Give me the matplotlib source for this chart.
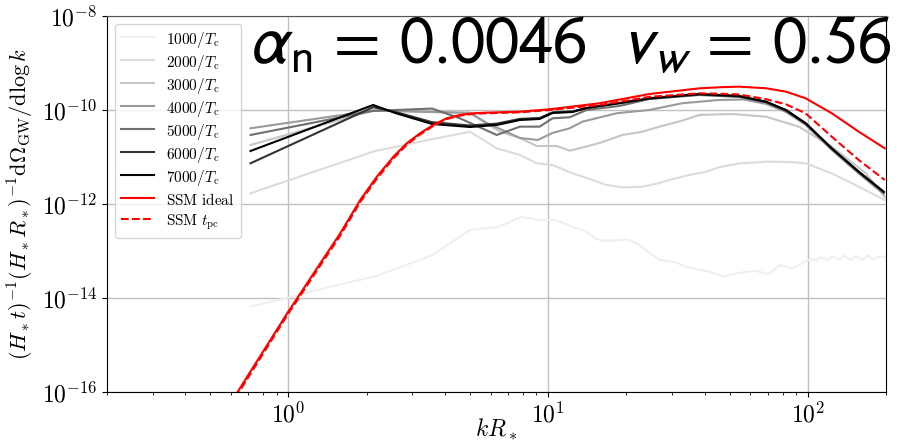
import numpy as np
import matplotlib
matplotlib.use("Agg")
import matplotlib.pyplot as plt
from matplotlib.ticker import FixedLocator, FuncFormatter, LogLocator, NullFormatter, NullLocator

plt.rcParams['mathtext.fontset'] = 'cm'
plt.rcParams['font.family'] = ['DejaVu Serif']

# ---- data (log10 of kR_* and log10 of spectrum) ----
logk_1000 = [-0.146, 0.0, 0.161, 0.333, 0.553, 0.70, 0.807, 0.897, 0.964, 1.028, 1.092, 1.14, 1.188,
             1.22, 1.274, 1.308, 1.348, 1.428, 1.49, 1.54, 1.62, 1.675, 1.73, 1.795, 1.85, 1.89, 1.94,
             1.987, 2.01, 2.03, 2.05, 2.075, 2.095, 2.12, 2.14, 2.165, 2.185, 2.21, 2.23, 2.255, 2.275, 2.3]
logw_1000 = [-14.18, -13.99, -13.76, -13.54, -13.09, -12.55, -12.49, -12.27, -12.34, -12.34, -12.48, -12.57, -12.75,
             -12.78, -12.77, -12.76, -12.86, -13.19, -13.24, -13.35, -13.44, -13.54, -13.47, -13.42, -13.49, -13.30, -13.37,
             -13.23, -13.17, -13.20, -13.13, -13.19, -13.11, -13.19, -13.10, -13.19, -13.10, -13.19, -13.10, -13.18, -13.11, -13.13]

logk_2000 = [-0.146, 0.334, 0.411, 0.507, 0.699, 0.802, 0.891, 0.956, 1.017, 1.094, 1.171, 1.225, 1.286, 1.363,
             1.428, 1.466, 1.543, 1.608, 1.658, 1.735, 1.839, 1.927, 1.992, 2.092, 2.196, 2.296]
logw_2000 = [-11.772, -10.872, -10.787, -10.674, -10.462, -10.815, -10.957, -11.134, -11.170, -11.347, -11.489,
             -11.596, -11.645, -11.632, -11.553, -11.489, -11.383, -11.313, -11.219, -11.138, -11.100, -11.106,
             -11.134, -11.347, -11.632, -11.915]

logk_3000 = [-0.146, 0.326, 0.553, 0.699, 0.814, 0.891, 0.956, 1.033, 1.083, 1.140, 1.198, 1.286, 1.363, 1.428,
             1.516, 1.582, 1.708, 1.839, 1.965, 2.092, 2.223, 2.296]
logw_3000 = [-10.745, -10.011, -10.043, -10.074, -10.462, -10.596, -10.766, -10.766, -10.866, -10.787, -10.702,
             -10.532, -10.462, -10.355, -10.228, -10.106, -10.085, -10.143, -10.355, -10.781, -11.347, -11.851]

logk_4000 = [-0.146, 0.326, 0.553, 0.699, 0.764, 0.891, 0.960, 1.017, 1.083, 1.132, 1.263, 1.390, 1.516, 1.658,
             1.754, 1.839, 1.916, 1.992, 2.092, 2.196, 2.292]
logw_4000 = [-10.389, -10.011, -10.043, -10.057, -10.277, -10.596, -10.638, -10.489, -10.389, -10.249, -10.070,
             -10.0, -9.857, -9.787, -9.777, -9.872, -10.043, -10.319, -10.851, -11.351, -11.787]

logk_5000 = [-0.146, 0.326, 0.553, 0.660, 0.802, 0.891, 0.967, 1.017, 1.083, 1.148, 1.274, 1.390, 1.582, 1.735,
             1.839, 1.916, 1.992, 2.092, 2.196, 2.292]
logw_5000 = [-10.532, -10.02, -9.97, -10.177, -10.532, -10.355, -10.355, -10.177, -10.155, -10.0, -9.915, -9.766,
             -9.681, -9.723, -9.840, -10.021, -10.298, -10.830, -11.330, -11.755]

logk_6000 = [-0.146, 0.326, 0.411, 0.553, 0.699, 0.802, 0.891, 0.967, 1.017, 1.094, 1.148, 1.274, 1.390, 1.582,
             1.735, 1.839, 1.916, 1.992, 2.092, 2.196, 2.292]
logw_6000 = [-11.134, -9.94, -10.04, -10.26, -10.33, -10.29, -10.19, -10.17, -10.05, -10.03, -9.96, -9.86, -9.76,
             -9.67, -9.71, -9.83, -10.01, -10.29, -10.82, -11.32, -11.75]

logk_7000 = [-0.146, 0.326, 0.411, 0.553, 0.699, 0.802, 0.891, 0.967, 1.017, 1.094, 1.148, 1.274, 1.390, 1.582,
             1.735, 1.839, 1.916, 1.992, 2.092, 2.196, 2.292]
logw_7000 = [-10.872, -9.894, -10.064, -10.298, -10.362, -10.319, -10.213, -10.191, -10.064, -10.043, -9.957,
             -9.851, -9.751, -9.660, -9.702, -9.823, -10.0, -10.283, -10.815, -11.313, -11.738]

logk_ssm = [-0.25, -0.196, -0.004, 0.1355, 0.1996, 0.2764, 0.3405, 0.4042, 0.4557, 0.5067, 0.5578, 0.6092,
            0.6603, 0.7113, 0.7628, 0.8906, 1.006, 1.198, 1.390, 1.582, 1.665, 1.735, 1.839, 1.916, 1.991,
            2.092, 2.196, 2.296]
logw_ssm_ideal = [-16.47, -16.0, -14.319, -13.155, -12.623, -11.915, -11.419, -10.994, -10.709, -10.496, -10.319,
                  -10.177, -10.106, -10.070, -10.057, -10.036, -9.985, -9.857, -9.66, -9.54, -9.515, -9.504,
                  -9.538, -9.611, -9.751, -10.07, -10.462, -10.815]
logw_ssm_tpc = [-16.52, -16.05, -14.36, -13.20, -12.67, -11.96, -11.46, -11.03, -10.74, -10.52, -10.34,
                -10.195, -10.12, -10.083, -10.07, -10.05, -10.0, -9.894, -9.72, -9.645, -9.655, -9.67,
                -9.77, -9.88, -10.07, -10.568, -11.064, -11.489]

series_labels = [r'$1000/T_{\rm c}$', r'$2000/T_{\rm c}$', r'$3000/T_{\rm c}$', r'$4000/T_{\rm c}$',
                 r'$5000/T_{\rm c}$', r'$6000/T_{\rm c}$', r'$7000/T_{\rm c}$']
series_colors = ['#efefef', '#dcdcdc', '#c6c6c6', '#9a9a9a', '#6f6f6f', '#333333', '#000000']

sim_k = [logk_1000, logk_2000, logk_3000, logk_4000, logk_5000, logk_6000, logk_7000]
sim_w = [logw_1000, logw_2000, logw_3000, logw_4000, logw_5000, logw_6000, logw_7000]

fig = plt.figure(figsize=(9.06, 4.43), dpi=100)
ax = fig.add_axes([0.118, 0.115, 0.860, 0.849])

for lk, lw_, lab, col in zip(sim_k, sim_w, series_labels, series_colors):
    ax.plot(10 ** np.array(lk), 10 ** np.array(lw_), color=col, lw=1.5, label=lab)
ax.plot(10 ** np.array(logk_ssm), 10 ** np.array(logw_ssm_ideal), color='red', lw=1.5, label=r'$\mathrm{SSM\ ideal}$')
ax.plot(10 ** np.array(logk_ssm), 10 ** np.array(logw_ssm_tpc), color='red', lw=1.5, ls='--',
        label=r'$\mathrm{SSM}\ t_{\rm pc}$')

ax.set_xscale('log')
ax.set_yscale('log')
ax.set_xlim(0.2, 200)
ax.set_ylim(1e-16, 1e-8)

ax.yaxis.set_major_locator(FixedLocator([1e-16, 1e-14, 1e-12, 1e-10, 1e-8]))
ax.yaxis.set_minor_locator(NullLocator())
ax.xaxis.set_major_locator(FixedLocator([1, 10, 100]))
ax.xaxis.set_minor_locator(LogLocator(base=10, subs=np.arange(2, 10)))
ax.xaxis.set_minor_formatter(NullFormatter())
fmt = FuncFormatter(lambda v, p: r'$10^{%d}$' % int(round(np.log10(v))))
ax.xaxis.set_major_formatter(fmt)
ax.yaxis.set_major_formatter(fmt)
ax.tick_params(axis='both', which='major', labelsize=17)

ax.grid(True, which='major', color='#c0c0c0', lw=1.0)
ax.set_axisbelow(True)
ax.spines['top'].set_color('#555555')

ax.set_xlabel(r'$kR_*$', fontsize=17, labelpad=-7)
ax.set_ylabel(r'$(H_*t)^{-1}(H_*R_*)^{-1}\mathrm{d}\Omega_{\rm GW}/\mathrm{d}\log k$', fontsize=16, labelpad=4)

ax.legend(loc='upper left', fontsize=11, handlelength=2.2, handleheight=1.4, labelspacing=0.2,
          framealpha=0.8, edgecolor='#cccccc')

ax.text(1.006, 0.872, r'$\alpha_{\rm n}\,=\,0.0046\ \ v_w\,=\,0.56$', transform=ax.transAxes,
        ha='right', va='baseline', fontsize=49, math_fontfamily='stixsans', clip_on=False)

fig.savefig('out.png', dpi=100)
